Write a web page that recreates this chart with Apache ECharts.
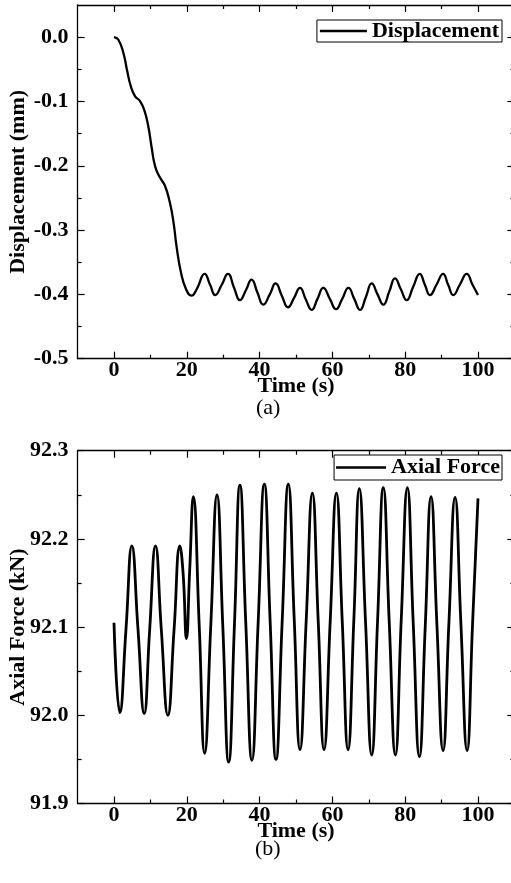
<!DOCTYPE html>
<html>
<head>
<meta charset="utf-8">
<script src="https://cdn.jsdelivr.net/npm/echarts@6/dist/echarts.min.js"></script>
<style>
html,body{margin:0;padding:0;background:#fff;}
#chart{width:511px;height:883px;}
</style>
</head>
<body>
<div id="chart"></div>
<script>
// ---- data ----
const X_MAJOR = [0, 20, 40, 60, 80, 100];
const X_MINOR = [10, 30, 50, 70, 90];
const DISP_Y_MAJOR = [-0.5, -0.4, -0.3, -0.2, -0.1, 0];
const DISP_Y_MINOR = [-0.45, -0.35, -0.25, -0.15, -0.05];
const FORCE_Y_MAJOR = [91.9, 92.0, 92.1, 92.2, 92.3];
const FORCE_Y_MINOR = [91.95, 92.05, 92.15, 92.25];

const dispTime = [0, 1.2, 2.6, 3.6, 4.6, 5.8, 7.1, 8.3, 9.4, 10.3, 11.3, 12.6, 14.0, 15.3, 16.3, 17.2, 18.4, 19.8, 21.3, 22.8,
  24.9, 26.4, 27.8, 29.6, 31.3, 33.0, 34.6, 36.2, 37.8, 39.4, 41.0, 42.8, 44.4, 46.1, 47.8, 49.5, 51.1, 52.7, 54.3, 55.9,
  57.5, 59.3, 61.0, 62.7, 64.4, 66.0, 67.6, 69.2, 70.8, 72.4, 74.0, 75.6, 77.2, 78.8, 80.4, 82.2, 84.0, 85.4, 86.8, 88.6,
  90.4, 91.8, 93.2, 95.0, 96.9, 98.5, 100.0];
const dispValue = [0, -0.004, -0.025, -0.052, -0.076, -0.092, -0.099, -0.113, -0.138, -0.170, -0.201, -0.218, -0.231, -0.256, -0.286, -0.326, -0.366, -0.392, -0.402, -0.391,
  -0.368, -0.385, -0.401, -0.385, -0.368, -0.390, -0.409, -0.394, -0.377, -0.397, -0.416, -0.400, -0.383, -0.402, -0.420, -0.405, -0.390, -0.408, -0.424, -0.407,
  -0.390, -0.407, -0.423, -0.407, -0.390, -0.407, -0.424, -0.404, -0.383, -0.400, -0.416, -0.396, -0.375, -0.392, -0.409, -0.388, -0.368, -0.385, -0.401, -0.385,
  -0.368, -0.385, -0.401, -0.385, -0.368, -0.385, -0.401];

const forceTime = [0, 1.6, 3.3, 4.9, 6.6, 8.3, 9.8, 11.4, 13.0, 14.8, 16.5, 18.1, 19.0, 19.9, 20.8, 21.8, 23.4, 24.9, 26.6, 28.3,
  29.9, 31.5, 33.1, 34.6, 36.2, 37.9, 39.6, 41.3, 42.9, 44.5, 46.2, 47.9, 49.5, 51.1, 52.8, 54.5, 56.1, 57.7, 59.4, 61.1,
  62.7, 64.3, 65.9, 67.4, 69.1, 70.8, 72.4, 74.0, 75.6, 77.3, 78.9, 80.6, 82.2, 83.9, 85.5, 87.1, 88.7, 90.4, 92.0, 93.7,
  95.3, 97.0, 98.5, 100.0];
const forceValue = [92.105, 92.003, 92.098, 92.192, 92.097, 92.002, 92.097, 92.192, 92.097, 92.000, 92.097, 92.192, 92.160, 92.087, 92.165, 92.248, 92.103, 91.957, 92.103, 92.250,
  92.100, 91.947, 92.104, 92.261, 92.105, 91.949, 92.105, 92.262, 92.106, 91.950, 92.106, 92.262, 92.110, 91.961, 92.107, 92.252, 92.107, 91.961, 92.107, 92.252,
  92.107, 91.961, 92.109, 92.257, 92.106, 91.955, 92.106, 92.258, 92.107, 91.955, 92.107, 92.258, 92.105, 91.953, 92.100, 92.248, 92.104, 91.960, 92.104, 92.247,
  92.104, 91.960, 92.103, 92.246];

// ---- styling helpers ----
const FONT = "'Liberation Serif', 'Times New Roman', serif";
const AXIS_LINE = { show: true, onZero: false, lineStyle: { color: '#000', width: 1.3 } };
const NO_LINE = { show: false, onZero: false };

function xAxesFor(grid) {
  const base = { type: 'value', gridIndex: grid, min: -10, max: 110, splitLine: { show: false } };
  return [
    Object.assign({}, base, {
      position: 'bottom', axisLine: AXIS_LINE,
      axisTick: { show: true, inside: true, length: 7, customValues: X_MAJOR, lineStyle: { color: '#000', width: 1.2 } },
      axisLabel: { show: true, customValues: X_MAJOR, margin: 1, color: '#000', fontFamily: FONT, fontWeight: 'bold', fontSize: 22 },
      name: 'Time (s)', nameLocation: 'middle', nameGap: 17, nameMoveOverlap: false,
      nameTextStyle: { color: '#000', fontFamily: FONT, fontWeight: 'bold', fontSize: 22 }
    }),
    Object.assign({}, base, {
      position: 'top', axisLine: AXIS_LINE,
      axisTick: { show: true, inside: true, length: 7, customValues: X_MAJOR, lineStyle: { color: '#000', width: 1.2 } },
      axisLabel: { show: false }
    }),
    Object.assign({}, base, {
      position: 'top', axisLine: NO_LINE,
      axisTick: { show: true, inside: true, length: 4, customValues: X_MINOR, lineStyle: { color: '#000', width: 1.2 } },
      axisLabel: { show: false }
    }),
    Object.assign({}, base, {
      position: 'bottom', axisLine: NO_LINE,
      axisTick: { show: true, inside: true, length: 4, customValues: X_MINOR, lineStyle: { color: '#000', width: 1.2 } },
      axisLabel: { show: false }
    })
  ];
}

function yAxesFor(grid, min, max, major, minor, title) {
  const base = { type: 'value', gridIndex: grid, min: min, max: max, splitLine: { show: false } };
  return [
    Object.assign({}, base, {
      position: 'left', axisLine: AXIS_LINE,
      axisTick: { show: true, inside: true, length: 7, customValues: major, lineStyle: { color: '#000', width: 1.2 } },
      axisLabel: { show: true, customValues: major, margin: 9, color: '#000', fontFamily: FONT, fontWeight: 'bold', fontSize: 22,
        formatter: function (v) { return Number(v).toFixed(1); } },
      name: title, nameLocation: 'middle', nameGap: 48, nameRotate: 90, nameMoveOverlap: false,
      nameTextStyle: { color: '#000', fontFamily: FONT, fontWeight: 'bold', fontSize: 22 }
    }),
    Object.assign({}, base, {
      position: 'right', axisLine: AXIS_LINE,
      axisTick: { show: true, inside: true, length: 7, customValues: major, lineStyle: { color: '#000', width: 1.2 } },
      axisLabel: { show: false }
    }),
    Object.assign({}, base, {
      position: 'left', axisLine: NO_LINE,
      axisTick: { show: true, inside: true, length: 4, customValues: minor, lineStyle: { color: '#000', width: 1.2 } },
      axisLabel: { show: false }
    }),
    Object.assign({}, base, {
      position: 'right', axisLine: NO_LINE,
      axisTick: { show: true, inside: true, length: 4, customValues: minor, lineStyle: { color: '#000', width: 1.2 } },
      axisLabel: { show: false }
    })
  ];
}

function pairs(xs, ys) { return xs.map(function (x, i) { return [x, ys[i]]; }); }

const chart = echarts.init(document.getElementById('chart'), null, { renderer: 'canvas' });
chart.setOption({
  animation: false,
  backgroundColor: '#fff',
  textStyle: { fontFamily: FONT },
  title: [
    { text: '(a)', left: 256, top: 397, padding: 0,
      textStyle: { fontFamily: FONT, fontWeight: 'normal', fontSize: 22, color: '#000' } },
    { text: '(b)', left: 255, top: 838, padding: 0,
      textStyle: { fontFamily: FONT, fontWeight: 'normal', fontSize: 22, color: '#000' } }
  ],
  grid: [
    { left: 77.6, right: -3.4, top: 5, height: 353.7, outerBoundsMode: 'none', containLabel: false },
    { left: 77.6, right: -3.4, top: 450.7, height: 352.8, outerBoundsMode: 'none', containLabel: false }
  ],
  legend: [
    { data: ['Displacement'], right: 9, top: 20, orient: 'horizontal',
      icon: 'rect', itemWidth: 47, itemHeight: 2.5, padding: [0, 3, 0, 3],
      borderColor: '#000', borderWidth: 1, backgroundColor: '#fff',
      textStyle: { fontFamily: FONT, fontWeight: 'bold', fontSize: 22, color: '#000', lineHeight: 21 } },
    { data: ['Axial Force'], right: 9, top: 455, orient: 'horizontal',
      icon: 'rect', itemWidth: 50, itemHeight: 2.5, padding: [0, 2, 0, 2],
      borderColor: '#000', borderWidth: 1, backgroundColor: '#fff',
      textStyle: { fontFamily: FONT, fontWeight: 'bold', fontSize: 22, color: '#000', lineHeight: 25 } }
  ],
  xAxis: xAxesFor(0).concat(xAxesFor(1)),
  yAxis: yAxesFor(0, -0.5, 0.05, DISP_Y_MAJOR, DISP_Y_MINOR, 'Displacement (mm)')
    .concat(yAxesFor(1, 91.9, 92.3, FORCE_Y_MAJOR, FORCE_Y_MINOR, 'Axial Force (kN)')),
  series: [
    { name: 'Displacement', type: 'line', xAxisIndex: 0, yAxisIndex: 0,
      data: pairs(dispTime, dispValue), smooth: 0.5, symbol: 'none',
      itemStyle: { color: '#000' }, lineStyle: { color: '#000', width: 2.3 } },
    { name: 'Axial Force', type: 'line', xAxisIndex: 4, yAxisIndex: 4,
      data: pairs(forceTime, forceValue), smooth: 0.5, symbol: 'none',
      itemStyle: { color: '#000' }, lineStyle: { color: '#000', width: 2.8 } }
  ]
});
</script>
</body>
</html>
